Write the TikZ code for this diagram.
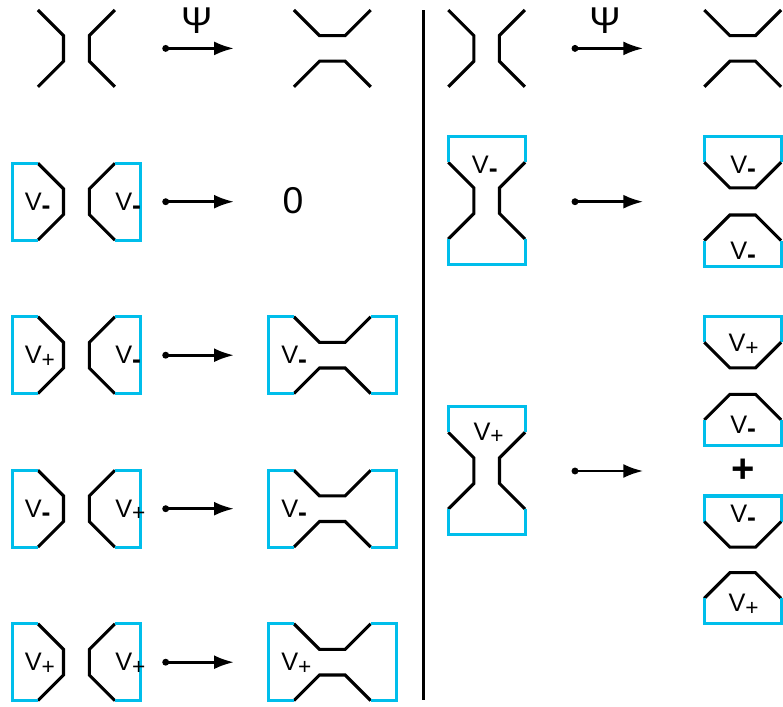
\documentclass[tikz,border=0pt]{standalone}
\usepackage{fontspec}
\setmainfont{Liberation Sans}
\usetikzlibrary{arrows.meta}
\definecolor{capblue}{RGB}{0,190,235}

\tikzset{
  wire/.style={line width=2.3pt, black},
  capline/.style={line width=2.3pt, capblue},
  lbl/.style={font=\fontsize{19}{19}\selectfont, inner sep=0pt, anchor=base west},
  big/.style={font=\fontsize{28}{28}\selectfont, inner sep=0pt},
  map/.style={line width=2.1pt, -{Latex[length=15pt,width=10.5pt]}},
}

\newcommand{\Vm}{V\raisebox{-3.3pt}{\fontsize{20}{20}\selectfont\bfseries -}}
\newcommand{\Vp}{V\raisebox{-2.5pt}{\fontsize{17}{17}\selectfont +}}

\newcommand{\gateL}[2]{\draw[wire, shift={(#1,#2)}, x=19.2pt, y=-19.2pt] (1,0) -- (2,1) -- (2,2) -- (1,3);}
\newcommand{\capL}[2]{\draw[capline, shift={(#1,#2)}, x=19.2pt, y=-19.2pt] (1,0) -- (0,0) -- (0,3) -- (1,3);}
\newcommand{\gateR}[2]{\draw[wire, shift={(#1,#2)}, x=19.2pt, y=-19.2pt] (1,0) -- (0,1) -- (0,2) -- (1,3);}
\newcommand{\capR}[2]{\draw[capline, shift={(#1,#2)}, x=19.2pt, y=-19.2pt] (1,0) -- (2,0) -- (2,3) -- (1,3);}
\newcommand{\bridge}[2]{\draw[wire, shift={(#1,#2)}, x=19.2pt, y=-19.2pt] (1,0) -- (2,1) -- (3,1) -- (4,0) (1,3) -- (2,2) -- (3,2) -- (4,3);}
\newcommand{\bridgecaps}[2]{\draw[capline, shift={(#1,#2)}, x=19.2pt, y=-19.2pt] (1,0) -- (0,0) -- (0,3) -- (1,3) (4,0) -- (5,0) -- (5,3) -- (4,3);}
\newcommand{\neck}[2]{%
  \draw[wire, shift={(#1,#2)}, x=19.2pt, y=-19.2pt] (0,1) -- (1,2) -- (1,3) -- (0,4) (3,1) -- (2,2) -- (2,3) -- (3,4);
  \draw[capline, shift={(#1,#2)}, x=19.2pt, y=-19.2pt] (0,1) -- (0,0) -- (3,0) -- (3,1) (0,4) -- (0,5) -- (3,5) -- (3,4);}
\newcommand{\cupT}[2]{%
  \draw[capline, shift={(#1,#2)}, x=19.2pt, y=-19.2pt] (0,1) -- (0,0) -- (3,0) -- (3,1);
  \draw[wire, shift={(#1,#2)}, x=19.2pt, y=-19.2pt] (0,1) -- (1,2) -- (2,2) -- (3,1);}
\newcommand{\cupB}[2]{%
  \draw[wire, shift={(#1,#2)}, x=19.2pt, y=-19.2pt] (0,1) -- (1,0) -- (2,0) -- (3,1);
  \draw[capline, shift={(#1,#2)}, x=19.2pt, y=-19.2pt] (0,1) -- (0,2) -- (3,2) -- (3,1);}

\begin{document}
\begin{tikzpicture}[x=0.75pt, y=-0.75pt]
\useasboundingbox (0,0) rectangle (783,707);

\draw[wire] (423.3,10) -- (423.3,700);

\gateL{12.3}{10} \gateR{89.3}{10}
\coordinate (s1) at (165.7,48.4);
\coordinate (e1) at (234,48.4);
\fill (s1) circle (2.6pt);
\draw[map] (s1) -- (e1);
\node[big] (psi1) at (196.7,21) {Ψ};
\bridge{268.3}{10}

\gateL{12.3}{163.3} \capL{12.3}{163.3} \gateR{89.3}{163.3} \capR{89.3}{163.3}
\node[lbl] (v2a) at (24.5,210.3) {\Vm};
\node[lbl] (v2b) at (115,210.3) {\Vm};
\coordinate (s2) at (165.7,201.7);
\coordinate (e2) at (234,201.7);
\fill (s2) circle (2.6pt);
\draw[map] (s2) -- (e2);
\node[big] (zero) at (293,201) {0};

\gateL{12.3}{316.8} \capL{12.3}{316.8} \gateR{89.3}{316.8} \capR{89.3}{316.8}
\node[lbl] (v3a) at (24.5,363.8) {\Vp};
\node[lbl] (v3b) at (115,363.8) {\Vm};
\coordinate (s3) at (165.7,355.2);
\coordinate (e3) at (234,355.2);
\fill (s3) circle (2.6pt);
\draw[map] (s3) -- (e3);
\bridge{268.3}{316.8} \bridgecaps{268.3}{316.8}
\node[lbl] (v3c) at (281,363.8) {\Vm};

\gateL{12.3}{470.3} \capL{12.3}{470.3} \gateR{89.3}{470.3} \capR{89.3}{470.3}
\node[lbl] (v4a) at (24.5,517.3) {\Vm};
\node[lbl] (v4b) at (115,517.3) {\Vp};
\coordinate (s4) at (165.7,508.7);
\coordinate (e4) at (234,508.7);
\fill (s4) circle (2.6pt);
\draw[map] (s4) -- (e4);
\bridge{268.3}{470.3} \bridgecaps{268.3}{470.3}
\node[lbl] (v4c) at (281,517.3) {\Vm};

\gateL{12.3}{623.8} \capL{12.3}{623.8} \gateR{89.3}{623.8} \capR{89.3}{623.8}
\node[lbl] (v5a) at (24.5,670.8) {\Vp};
\node[lbl] (v5b) at (115,670.8) {\Vp};
\coordinate (s5) at (165.7,662.2);
\coordinate (e5) at (234,662.2);
\fill (s5) circle (2.6pt);
\draw[map] (s5) -- (e5);
\bridge{268.3}{623.8} \bridgecaps{268.3}{623.8}
\node[lbl] (v5c) at (281,670.8) {\Vp};

\gateL{422.7}{10} \gateR{499.3}{10}
\coordinate (s6) at (575,48.4);
\coordinate (e6) at (643.3,48.4);
\fill (s6) circle (2.6pt);
\draw[map] (s6) -- (e6);
\node[big] (psi2) at (605,21) {Ψ};
\bridge{678.7}{10}

\neck{448.3}{136.7}
\node[lbl] (h1) at (471.7,173.3) {\Vm};
\coordinate (s7) at (575,201.7);
\coordinate (e7) at (643.3,201.7);
\fill (s7) circle (2.6pt);
\draw[map] (s7) -- (e7);
\cupT{704.3}{136.7}
\node[lbl] (p1) at (730,173.3) {\Vm};
\cupB{704.3}{215}
\node[lbl] (p2) at (730,259) {\Vm};

\neck{448.3}{406.7}
\node[lbl] (h2) at (473.3,440) {\Vp};
\coordinate (s8) at (575,471);
\coordinate (e8) at (643.3,471);
\fill (s8) circle (2.6pt);
\draw[map] (s8) -- (e8);
\cupT{704.3}{316.7}
\node[lbl] (p3) at (728.3,351.7) {\Vp};
\cupB{704.3}{394.3}
\node[lbl] (p4) at (730,433.3) {\Vm};
\node[font=\fontsize{30}{30}\selectfont\bfseries, inner sep=0pt] (plus) at (743.3,471) {+};
\cupT{704.3}{496}
\node[lbl] (p5) at (730,522) {\Vm};
\cupB{704.3}{572.7}
\node[lbl] (p6) at (728.3,611.7) {\Vp};
\end{tikzpicture}
\end{document}
